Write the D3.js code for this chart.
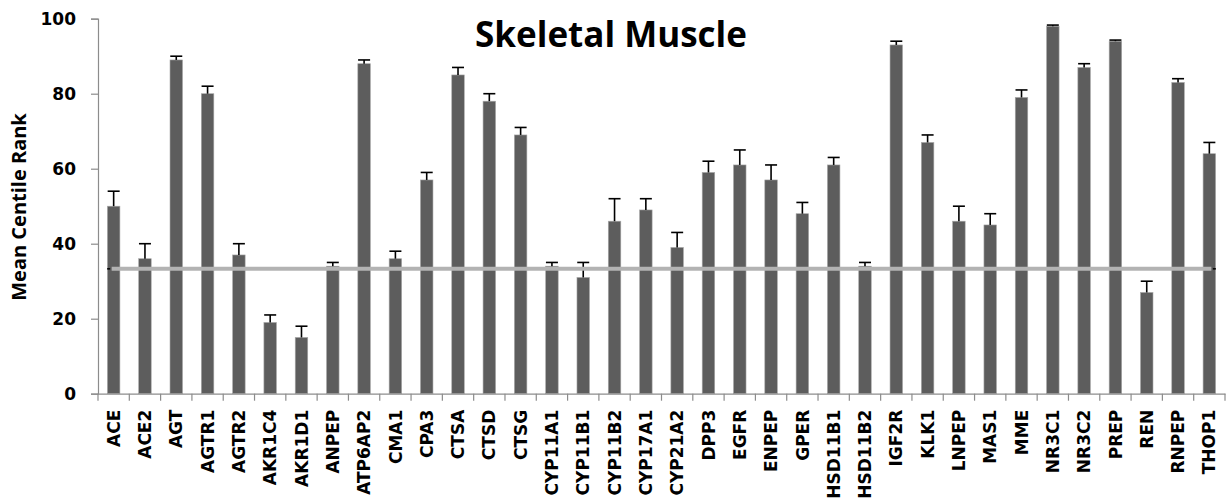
<!DOCTYPE html>
<html>
<head>
<meta charset="utf-8">
<script src="https://cdn.jsdelivr.net/npm/d3@7"></script>
<style>
  body { margin: 0; background: #fff; }
  text { font-weight: bold; }
</style>
</head>
<body>
<div id="chart-area"></div>
<script>
// genes on the x axis
var genes = ["ACE", "ACE2", "AGT", "AGTR1", "AGTR2", "AKR1C4", "AKR1D1", "ANPEP", "ATP6AP2", "CMA1",
             "CPA3", "CTSA", "CTSD", "CTSG", "CYP11A1", "CYP11B1", "CYP11B2", "CYP17A1", "CYP21A2", "DPP3",
             "EGFR", "ENPEP", "GPER", "HSD11B1", "HSD11B2", "IGF2R", "KLK1", "LNPEP", "MAS1", "MME",
             "NR3C1", "NR3C2", "PREP", "REN", "RNPEP", "THOP1"];
// mean centile rank
var means = [50, 36, 89, 80, 37, 19, 15, 34, 88, 36,
             57, 85, 78, 69, 34, 31, 46, 49, 39, 59,
             61, 57, 48, 61, 34, 93, 67, 46, 45, 79,
             98, 87, 94, 27, 83, 64];
// upper error (sem)
var errs = [4, 4, 1, 2, 3, 2, 3, 1, 1, 2,
            2, 2, 2, 2, 1, 4, 6, 3, 4, 3,
            4, 4, 3, 2, 1, 1, 2, 4, 3, 2,
            0.3, 1, 0.3, 3, 1, 3];
var yTicks = [0, 20, 40, 60, 80, 100];
var baseline = 33.3;

var width = 1231, height = 500;
var left = 98, right = 1225, topY = 18.7, bottom = 393.7;
var labelFont = "'DejaVu Sans', sans-serif";

var svg = d3.select("#chart-area").append("svg")
            .attr("width", width)
            .attr("height", height);

var x = d3.scaleBand()
          .domain(genes)
          .range([left, right])
          .paddingInner(0.6)
          .paddingOuter(0.3);

var y = d3.scaleLinear()
          .domain([0, 100])
          .range([bottom, topY]);

// bars
svg.selectAll("rect.bar")
   .data(genes)
   .enter()
   .append("rect")
     .attr("class", "bar")
     .attr("x", (d) => x(d))
     .attr("y", (d, i) => y(means[i]))
     .attr("width", x.bandwidth())
     .attr("height", (d, i) => bottom - y(means[i]))
     .attr("fill", "#5d5d5d")
     .attr("stroke", "#a8a8a8")
     .attr("stroke-width", 0.6);

// error bars (upper only)
var eb = svg.selectAll("g.err")
            .data(genes)
            .enter()
            .append("g")
              .attr("class", "err")
              .attr("stroke", "#000")
              .attr("stroke-width", 1.6);
eb.append("line")
  .attr("x1", (d) => x(d) + x.bandwidth() / 2)
  .attr("x2", (d) => x(d) + x.bandwidth() / 2)
  .attr("y1", (d, i) => y(means[i]))
  .attr("y2", (d, i) => y(means[i] + errs[i]));
eb.append("line")
  .attr("x1", (d) => x(d) + x.bandwidth() / 2 - 6)
  .attr("x2", (d) => x(d) + x.bandwidth() / 2 + 6)
  .attr("y1", (d, i) => y(means[i] + errs[i]))
  .attr("y2", (d, i) => y(means[i] + errs[i]));

// y axis
var yAxis = svg.append("g")
               .attr("transform", "translate(" + left + ",0)")
               .call(d3.axisLeft(y).tickValues(yTicks).tickSize(7).tickPadding(15));
yAxis.select(".domain").attr("stroke", "#8c8c8c").attr("stroke-width", 1.2);
yAxis.selectAll(".tick line").attr("stroke", "#8c8c8c").attr("stroke-width", 1.2);
yAxis.selectAll(".tick text").attr("font-size", 17).attr("fill", "#000")
     .attr("font-family", labelFont).attr("font-weight", "bold");

// x axis
var xAxis = svg.append("g")
               .attr("transform", "translate(0," + bottom + ")")
               .call(d3.axisBottom(x).tickSize(0).tickPadding(0));
xAxis.select(".domain").attr("stroke", "#8c8c8c").attr("stroke-width", 1.2);
xAxis.selectAll(".tick text")
     .attr("font-size", 17).attr("fill", "#000")
     .attr("font-family", labelFont).attr("font-weight", "bold")
     .attr("transform", "rotate(-90)")
     .attr("text-anchor", "end")
     .attr("x", -16)
     .attr("y", 0)
     .attr("dy", "0.36em");
// category boundary ticks
var step = x.step();
svg.selectAll("line.xtick")
   .data(d3.range(genes.length + 1))
   .enter()
   .append("line")
     .attr("class", "xtick")
     .attr("x1", (d) => left + d * step)
     .attr("x2", (d) => left + d * step)
     .attr("y1", bottom)
     .attr("y2", bottom + 7)
     .attr("stroke", "#8c8c8c")
     .attr("stroke-width", 1.2);

// baseline at 33.3
var x0 = x(genes[0]) + x.bandwidth() / 2 - 2;
var x1 = x(genes[genes.length - 1]) + x.bandwidth() / 2 + 2;
svg.append("line")
   .attr("x1", x0).attr("x2", x1)
   .attr("y1", y(baseline)).attr("y2", y(baseline))
   .attr("stroke", "#b3b3b3")
   .attr("stroke-width", 4);
svg.selectAll("line.endmark")
   .data([x0 - 3, x1 + 3])
   .enter()
   .append("line")
     .attr("class", "endmark")
     .attr("x1", (d) => d - 1.5).attr("x2", (d) => d + 1.5)
     .attr("y1", y(baseline)).attr("y2", y(baseline))
     .attr("stroke", "#000").attr("stroke-width", 1.5);

// title
svg.append("text")
   .attr("x", 611)
   .attr("y", 47)
   .attr("text-anchor", "middle")
   .attr("font-family", "'Open Sans', sans-serif")
   .attr("font-size", 35)
   .text("Skeletal Muscle");

// y axis title
svg.append("text")
   .attr("transform", "translate(26,207) rotate(-90)")
   .attr("text-anchor", "middle")
   .attr("font-family", "'Open Sans', sans-serif")
   .attr("font-size", 20)
   .text("Mean Centile Rank");
</script>
</body>
</html>
